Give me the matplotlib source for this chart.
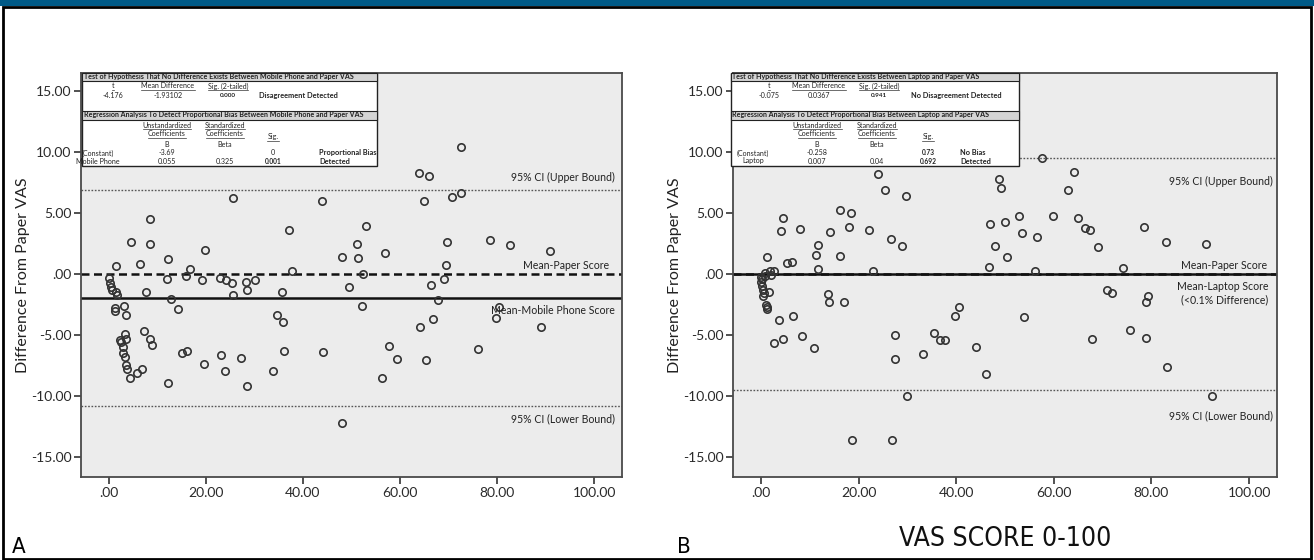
import matplotlib
matplotlib.use("Agg")
import matplotlib.pyplot as plt
from matplotlib.patches import Rectangle
from matplotlib.lines import Line2D
from matplotlib.ticker import FuncFormatter

W, H = 1314, 560

# panel A: mobile phone vs paper
a_vas = [25.7, 43.9, 8.6, 52.9, 37.1, 4.5, 8.6, 51.2, 19.9, 48.1, 51.3, 12.2, 1.6, 6.4, 16.7,
         37.8, 52.4, 15.9, 0.1, 12.1, 19.2, 23.0, 24.2, 25.3, 28.2, 30.1, 0.2, 0.5, 0.6, 1.5,
         1.8, 7.7, 28.5, 35.7, 25.7, 12.9, 49.4, 3.2, 1.3, 1.4, 14.2, 52.2, 3.6, 34.6, 35.9,
         7.2, 3.4, 3.6, 8.6, 2.4, 2.6, 8.9, 2.9, 2.9, 15.1, 16.1, 36.2, 44.2, 23.2, 3.3, 27.3,
         19.6, 3.6, 3.8, 6.9, 5.9, 23.9, 33.8, 4.3, 12.3, 28.5, 48.1,
         63.8, 65.9, 72.6, 70.7, 64.9, 72.5, 69.7, 78.5, 82.7, 90.9, 57.0, 69.5, 69.1, 66.3,
         67.9, 80.3, 79.8, 66.8, 64.1, 89.1, 57.8, 59.4, 65.4, 76.0, 56.2]
a_diff = [6.23, 6.04, 4.55, 3.94, 3.62, 2.69, 2.47, 2.45, 1.96, 1.44, 1.31, 1.28, 0.71, 0.82, 0.46,
          0.27, 0.05, -0.14, -0.33, -0.38, -0.44, -0.27, -0.44, -0.68, -0.6, -0.44, -0.71, -1.06, -1.25, -1.44,
          -1.69, -1.47, -1.25, -1.44, -1.71, -2.01, -1.03, -2.56, -2.78, -2.99, -2.86, -2.61, -3.29, -3.32, -3.94,
          -4.65, -4.9, -5.28, -5.28, -5.41, -5.52, -5.8, -5.98, -6.42, -6.42, -6.31, -6.31, -6.37, -6.58, -6.8, -6.83,
          -7.32, -7.4, -7.76, -7.78, -8.06, -7.89, -7.89, -8.51, -8.9, -9.12, -12.2,
          8.3, 8.03, 6.64, 6.37, 6.04, 10.4, 2.64, 2.83, 2.39, 1.9, 1.74, 0.79, -0.41, -0.9,
          -2.07, -2.67, -3.56, -3.62, -4.33, -4.35, -5.88, -6.94, -7.02, -6.15, -8.51]
a_mean_diff = -1.93102
a_ci = (6.94, -10.80)

# panel B: laptop vs paper
b_vas = [23.9, 25.5, 29.8, 48.7, 49.1, 4.6, 4.1, 8.1, 16.3, 18.5, 18.0, 14.2, 22.2, 26.6, 28.9,
         11.7, 11.2, 16.2, 1.2, 5.4, 6.4, 11.7, 22.9, 47.0, 50.0, 52.8, 53.5, 56.5, 47.9, 50.4,
         46.8, 56.1, 1.85, 2.7, 0.8, 2.0, -0.06, 0.1, 0.27, 0.5, 1.6, 0.6, 1.0, 1.2, 1.2,
         0.3, 0.9, 0.4, 13.8, 14.0, 17.1, 6.6, 3.8, 4.5, 2.7, 8.4, 10.9, 27.5, 27.5, 33.3, 35.5,
         36.7, 37.8, 39.8, 40.5, 44.1, 46.2, 53.9, 30.0, 18.7, 26.8,
         57.5, 64.1, 62.8, 59.8, 64.9, 66.3, 67.4, 69.1, 78.4, 83.0, 91.1, 74.1, 70.9, 72.0,
         79.2, 78.9, 75.6, 78.9, 67.9, 83.1, 92.3]
b_diff = [8.21, 6.95, 6.46, 7.85, 7.09, 4.66, 3.59, 3.73, 5.26, 5.04, 3.87, 3.46, 3.67, 2.94, 2.31,
          2.44, 1.6, 1.49, 1.41, 0.94, 1.02, 0.45, 0.26, 4.11, 4.28, 4.77, 3.40, 3.05, 2.34, 1.41,
          0.59, 0.29, 0.31, 0.31, 0.1, -0.04, -0.23, -0.59, -0.92, -1.24, -1.41, -1.54, -2.5, -2.83, -2.65,
          -0.4, -0.1, -1.8, -1.63, -2.28, -2.28, -3.37, -3.73, -5.29, -5.64, -5.07, -6.02, -4.93, -6.95, -6.54, -4.8,
          -5.34, -5.34, -3.37, -2.66, -5.94, -8.13, -3.48, -9.99, -13.6, -13.6,
          9.5, 8.38, 6.93, 4.77, 4.58, 3.79, 3.65, 2.23, 3.92, 2.64, 2.47, 0.51, -1.27, -1.52,
          -1.79, -2.23, -4.55, -5.2, -5.31, -7.56, -9.96]
b_mean_diff = 0.0367
b_ci = (9.54, -9.47)

x_ticks = [0, 20, 40, 60, 80, 100]
y_ticks = [15, 10, 5, 0, -5, -10, -15]

a_title1 = "Test of Hypothesis That No Difference Exists Between Mobile Phone and Paper VAS"
a_test = ["-4.176", "-1.93102", "0.000", "Disagreement Detected"]
a_title2 = "Regression Analysis To Detect Proportional Bias Between Mobile Phone and Paper VAS"
a_rows = [["(Constant)", "-3.69", "", "0", "Proportional Bias"],
          ["Mobile Phone", "0.055", "0.325", "0.001", "Detected"]]
a_bold_sig = [False, True]

b_title1 = "Test of Hypothesis That No Difference Exists Between Laptop and Paper VAS"
b_test = ["-0.075", "0.0367", "0.941", "No Disagreement Detected"]
b_title2 = "Regression Analysis To Detect Proportional Bias Between Laptop and Paper VAS"
b_rows = [["(Constant)", "-0.258", "", "0.73", "No Bias"],
          ["Laptop", "0.007", "0.04", "0.692", "Detected"]]
b_bold_sig = [True, True]

FONT = ["Lato", "DejaVu Sans"]
plt.rcParams['font.family'] = FONT
NARROW = dict(family=["DejaVu Sans"], fontstretch="condensed")

fig = plt.figure(figsize=(W / 100, H / 100), dpi=100)
fig.patch.set_facecolor("white")


def fx(x):
    return x / W


def fy(y):
    return 1 - y / H


# top band and frame
fig.add_artist(Rectangle((0, fy(6)), 1, 6 / H, transform=fig.transFigure,
                         facecolor="#005a87", edgecolor="none"))
fig.add_artist(Rectangle((fx(3), fy(559)), fx(1308), (559 - 7) / H, transform=fig.transFigure,
                         facecolor="none", edgecolor="black", lw=2))

renderer = fig.canvas.get_renderer()


def ftext(x, y, s, ha="center", bold=False, size=5.1, underline=False):
    t = fig.text(fx(x), fy(y), s, ha=ha, va="center", fontsize=size,
                 fontweight="bold" if bold else "normal", color="#222222")
    if underline and s:
        bb = t.get_window_extent(renderer=renderer).transformed(fig.transFigure.inverted())
        yy = bb.y0 - 0.6 / H
        fig.add_artist(Line2D([bb.x0, bb.x1], [yy, yy], transform=fig.transFigure,
                              lw=0.5, color="#333333"))
    return t


def draw_table(x0, x1, title1, test, title2, rows, bold_sig, top_cols, reg_cols):
    y0, y1 = 73, 166
    fig.add_artist(Rectangle((fx(x0), fy(y1)), fx(x1 - x0), (y1 - y0) / H,
                             transform=fig.transFigure, facecolor="white",
                             edgecolor="#222222", lw=1.0, zorder=2))
    for (ya, yb) in [(73, 80.5), (110.5, 119.5)]:
        fig.add_artist(Rectangle((fx(x0), fy(yb)), fx(x1 - x0), (yb - ya) / H,
                                 transform=fig.transFigure, facecolor="#d4d4d4",
                                 edgecolor="#222222", lw=0.8, zorder=2))
    ftext(x0 + 1.5, 76.8, title1, ha="left", bold=True, size=5.15)
    ftext(x0 + 1.5, 115, title2, ha="left", bold=True, size=5.15)
    for cx, h in zip(top_cols[:3], ["t", "Mean Difference", "Sig. (2-tailed)"]):
        ftext(cx, 86, h, underline=True)
    ftext(top_cols[0], 95, test[0])
    ftext(top_cols[1], 95, test[1])
    ftext(top_cols[2], 95, test[2], bold=True, size=4.6)
    ftext(top_cols[3], 95, test[3], ha="left", bold=True, size=5.3)
    ftext(reg_cols[1], 125, "Unstandardized", underline=True)
    ftext(reg_cols[1], 133.5, "Coefficients", underline=True)
    ftext(reg_cols[1], 144.5, "B")
    ftext(reg_cols[2], 125, "Standardized", underline=True)
    ftext(reg_cols[2], 133.5, "Coefficients", underline=True)
    ftext(reg_cols[2], 144.5, "Beta")
    ftext(reg_cols[3], 136.5, "Sig.", underline=True)
    for ry, row, bs in zip([153, 161], rows, bold_sig):
        ftext(reg_cols[0], ry, row[0])
        ftext(reg_cols[1], ry, row[1])
        ftext(reg_cols[2], ry, row[2])
        ftext(reg_cols[3], ry, row[3], bold=bs, size=4.8 if bs else 5.1)
        ftext(reg_cols[4], ry, row[4], ha="left", bold=True, size=5.3)


def fmt(v, pos):
    s = f"{v:.2f}"
    if s.startswith("0."):
        s = s[1:]
    if s == "-0.00":
        s = ".00"
    return s


def draw_panel(rect, vas, diff, mean_diff, ci, labels):
    ax = fig.add_axes(rect)
    ax.set_facecolor("#ececec")
    ax.set_xlim(-5.7, 105.7)
    ax.set_ylim(-16.6, 16.5)
    for sp in ax.spines.values():
        sp.set_color("#4a4a4a")
        sp.set_linewidth(1.3)
    ax.set_xticks(x_ticks)
    ax.set_yticks(y_ticks)
    ax.xaxis.set_major_formatter(FuncFormatter(fmt))
    ax.yaxis.set_major_formatter(FuncFormatter(fmt))
    ax.tick_params(direction="out", length=5, width=1.2, color="#333333",
                   labelsize=10, labelcolor="#2a2a2a", pad=2)
    ax.set_ylabel("Difference From Paper VAS", fontsize=11.5, color="#222222")
    ax.yaxis.set_label_coords(-0.094, 0.5)

    ax.axhline(ci[0], color="#555555", lw=1.0, ls=(0, (1.2, 1.2)), zorder=1)
    ax.axhline(ci[1], color="#555555", lw=1.0, ls=(0, (1.2, 1.2)), zorder=1)
    ax.axhline(0, color="#111111", lw=1.8, ls=(0, (3.2, 1.8)), zorder=1)
    ax.axhline(mean_diff, color="#111111", lw=1.8, zorder=1)
    ax.plot(vas, diff, "o", ms=5.3, mfc="none", mec="#333333", mew=1.2, zorder=3)

    for (xx, yy, s) in labels:
        ax.text(xx, yy, s, ha="right", va="center", fontsize=7.6, color="#222222",
                linespacing=1.2, zorder=4)
    return ax


ax_a = draw_panel([fx(81), fy(477), fx(622 - 81), (477 - 73) / H],
                  a_vas, a_diff, a_mean_diff, a_ci,
                  [(104.3, 7.95, "95% CI (Upper Bound)"),
                   (103.0, 0.7, "Mean-Paper Score"),
                   (104.3, -2.95, "Mean-Mobile Phone Score"),
                   (104.3, -11.85, "95% CI (Lower Bound)")])

ax_b = draw_panel([fx(733), fy(477), fx(1277 - 733), (477 - 73) / H],
                  b_vas, b_diff, b_mean_diff, b_ci,
                  [(104.9, 7.6, "95% CI (Upper Bound)"),
                   (103.7, 0.7, "Mean-Paper Score"),
                   (104.0, -1.55, "Mean-Laptop Score\n(<0.1% Difference)"),
                   (104.9, -11.6, "95% CI (Lower Bound)")])
ax_b.set_xlabel("VAS SCORE 0-100", fontsize=19, color="#111111", labelpad=20, **NARROW)

draw_table(82, 377, a_title1, a_test, a_title2, a_rows, a_bold_sig,
           [113, 168, 228, 259], [98, 167, 225, 273, 319])
draw_table(731, 1019, b_title1, b_test, b_title2, b_rows, b_bold_sig,
           [769, 819, 879, 911], [753, 817, 877, 928, 960])

fig.text(fx(12), fy(547), "A", fontsize=16, va="center", ha="left", **NARROW)
fig.text(fx(677), fy(547), "B", fontsize=16, va="center", ha="left", **NARROW)

fig.savefig("out.png", dpi=100)
